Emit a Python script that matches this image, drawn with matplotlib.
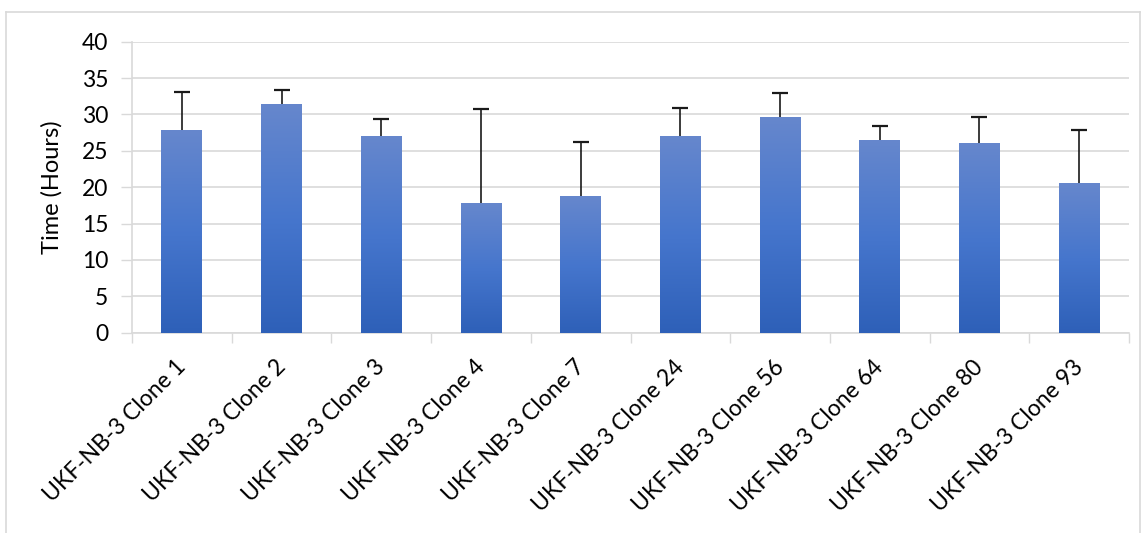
import numpy as np
import matplotlib
matplotlib.use("Agg")
import matplotlib.pyplot as plt
from matplotlib.colors import LinearSegmentedColormap
from matplotlib.lines import Line2D
from matplotlib.transforms import ScaledTranslation

plt.rcParams['font.family'] = ['Lato', 'DejaVu Sans']

clones = ["UKF-NB-3 Clone 1", "UKF-NB-3 Clone 2", "UKF-NB-3 Clone 3",
          "UKF-NB-3 Clone 4", "UKF-NB-3 Clone 7", "UKF-NB-3 Clone 24",
          "UKF-NB-3 Clone 56", "UKF-NB-3 Clone 64", "UKF-NB-3 Clone 80",
          "UKF-NB-3 Clone 93"]
mean_hours = [27.9, 31.4, 27.0, 17.8, 18.8, 27.0, 29.6, 26.5, 26.1, 20.6]
sd_hours = [5.2, 2.0, 2.4, 13.0, 7.4, 3.9, 3.4, 1.9, 3.5, 7.2]
y_ticks = [0, 5, 10, 15, 20, 25, 30, 35, 40]

W, H = 1146, 533
fig = plt.figure(figsize=(W / 100, H / 100), dpi=100)
ax = fig.add_axes([132 / W, 1 - 332.7 / H, (1129 - 132) / W, (332.7 - 41.7) / H])

grid_col = "#D9D9D9"
x = np.arange(len(clones))
bars = ax.bar(x, mean_hours, width=0.41, facecolor="none", edgecolor="none", zorder=3)

# vertical gradient fill for each bar (lighter at top, deeper at bottom)
cmap = LinearSegmentedColormap.from_list(
    "excel_blue", [(0.0, "#2E60B8"), (0.5, "#4676CD"), (1.0, "#6687CC")])
grad = np.linspace(0, 1, 256).reshape(-1, 1)
for b in bars:
    x0, y0 = b.get_x(), b.get_y()
    w, h = b.get_width(), b.get_height()
    im = ax.imshow(grad, cmap=cmap, origin="lower", aspect="auto",
                   extent=(x0, x0 + w, y0, y0 + h), zorder=3,
                   interpolation="bilinear")
    im.set_clip_path(b)

# upper-only error bars (lower caps hidden)
_, caps, _ = ax.errorbar(x, mean_hours, yerr=[np.zeros(len(sd_hours)), sd_hours],
                         fmt="none", ecolor="#1a1a1a", elinewidth=1.2, capsize=6,
                         capthick=1.6, zorder=4)
caps[0].set_visible(False)

ax.set_xlim(-0.5, len(clones) - 0.5)
ax.set_ylim(0, 40)
ax.set_yticks(y_ticks)
ax.tick_params(axis="y", labelsize=16.5, length=8, width=1, color=grid_col,
               pad=9, labelcolor="#000000")
ax.yaxis.grid(True, color=grid_col, linewidth=1.2, zorder=0)
ax.set_axisbelow(True)

ax.set_xticks(x)
ax.set_xticklabels(clones, rotation=45, ha="right", va="top",
                   rotation_mode="anchor", fontsize=16.5)
ax.tick_params(axis="x", length=0, pad=14)
shift = ScaledTranslation(-0.07, -0.04, fig.dpi_scale_trans)
for lbl in ax.get_xticklabels():
    lbl.set_transform(lbl.get_transform() + shift)
ax.set_xticks(np.arange(-0.5, len(clones)), minor=True)
ax.tick_params(axis="x", which="minor", length=7, width=1, color=grid_col)

for side in ("top", "right"):
    ax.spines[side].set_visible(False)
for side in ("left", "bottom"):
    ax.spines[side].set_color(grid_col)
    ax.spines[side].set_linewidth(1.2)

ax.set_ylabel("Time (Hours)", fontsize=17, labelpad=14)

# light frame around the chart area
frame_col = "#D9D9D9"
fx0, fx1, fy0 = 6 / W, 1140 / W, 1 - 12 / H
fig.add_artist(Line2D([fx0, fx0], [0, fy0], color=frame_col, lw=1.2, transform=fig.transFigure))
fig.add_artist(Line2D([fx0, fx1], [fy0, fy0], color=frame_col, lw=1.2, transform=fig.transFigure))
fig.add_artist(Line2D([fx1, fx1], [0, fy0], color=frame_col, lw=1.2, transform=fig.transFigure))

fig.savefig("out.png", dpi=100, facecolor="white")
